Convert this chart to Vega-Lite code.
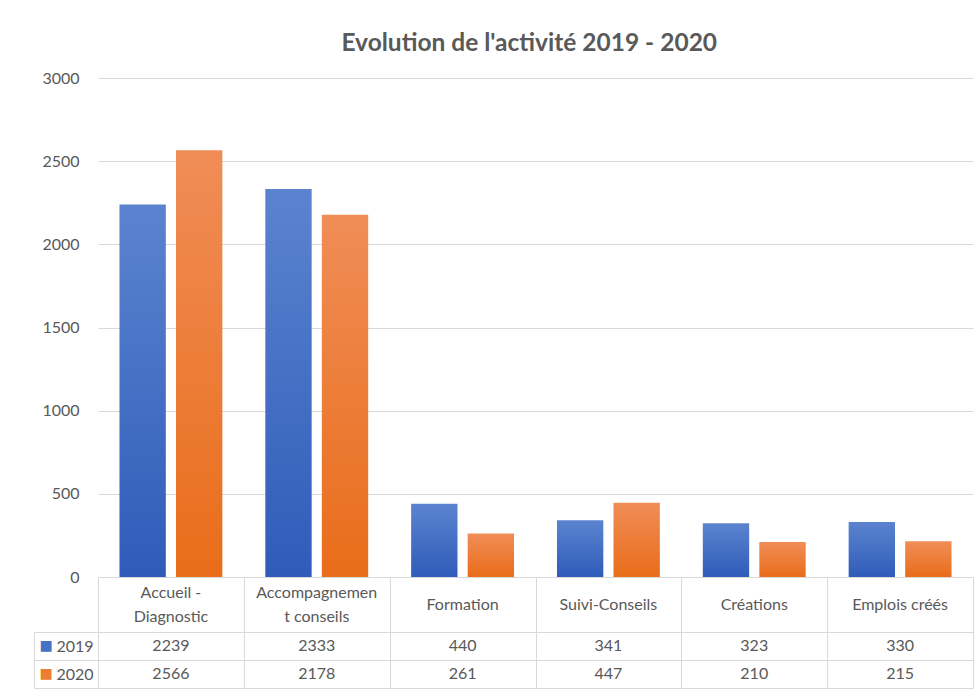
{
  "$schema": "https://vega.github.io/schema/vega-lite/v6.json",
  "background": "white",
  "padding": {"left": 33, "top": 30, "right": 5, "bottom": 0},
  "bounds": "flush",
  "config": {
    "view": {"stroke": null},
    "font": "Lato",
    "axis": {"labelFont": "Lato", "labelFontSize": 16, "labelColor": "#595959"}
  },
  "title": {
    "text": "Evolution de l'activité 2019 - 2020",
    "font": "Lato",
    "fontSize": 24.5,
    "fontWeight": "bold",
    "color": "#595959",
    "anchor": "middle",
    "offset": 14,
    "dx": 26
  },
  "datasets": {
    "d": [
      {"cat": "Accueil -\nDiagnostic", "year": "2019", "value": 2239},
      {"cat": "Accompagnemen\nt conseils", "year": "2019", "value": 2333},
      {"cat": "Formation", "year": "2019", "value": 440},
      {"cat": "Suivi-Conseils", "year": "2019", "value": 341},
      {"cat": "Créations", "year": "2019", "value": 323},
      {"cat": "Emplois créés", "year": "2019", "value": 330},
      {"cat": "Accueil -\nDiagnostic", "year": "2020", "value": 2566},
      {"cat": "Accompagnemen\nt conseils", "year": "2020", "value": 2178},
      {"cat": "Formation", "year": "2020", "value": 261},
      {"cat": "Suivi-Conseils", "year": "2020", "value": 447},
      {"cat": "Créations", "year": "2020", "value": 210},
      {"cat": "Emplois créés", "year": "2020", "value": 215}
    ]
  },
  "spacing": 0,
  "vconcat": [
    {
      "width": 875,
      "height": 499,
      "data": {"name": "d"},
      "encoding": {
        "x": {
          "field": "cat", "type": "nominal",
          "scale": {"type": "band", "domain": ["Accueil -\nDiagnostic", "Accompagnemen\nt conseils", "Formation", "Suivi-Conseils", "Créations", "Emplois créés"], "paddingInner": 0, "paddingOuter": 0},
          "axis": {"title": null, "labels": false, "ticks": false, "domain": true, "domainColor": "#d9d9d9", "grid": false}
        },
        "xOffset": {"field": "year", "type": "nominal", "scale": {"domain": ["2019", "2020"], "paddingInner": 0.18, "paddingOuter": 0.38}},
        "y": {
          "field": "value", "type": "quantitative",
          "scale": {"domain": [0, 3000]},
          "axis": {"title": null, "values": [0, 500, 1000, 1500, 2000, 2500, 3000], "format": "d", "domain": false, "ticks": false, "gridColor": "#d9d9d9", "labelPadding": 19}
        }
      },
      "layer": [
        {
          "transform": [{"filter": "datum.year == '2019'"}],
          "mark": {"type": "bar", "color": {"gradient": "linear", "x1": 0, "y1": 0, "x2": 0, "y2": 1, "stops": [{"offset": 0, "color": "#5b83cf"}, {"offset": 1, "color": "#2f5cb9"}]}}
        },
        {
          "transform": [{"filter": "datum.year == '2020'"}],
          "mark": {"type": "bar", "color": {"gradient": "linear", "x1": 0, "y1": 0, "x2": 0, "y2": 1, "stops": [{"offset": 0, "color": "#f08d57"}, {"offset": 1, "color": "#e96d1a"}]}}
        }
      ]
    },
    {
      "width": 875,
      "height": 55,
      "data": {"name": "d"},
      "transform": [{"filter": "datum.year == '2019'"}],
      "encoding": {
        "x": {
          "field": "cat", "type": "nominal",
          "scale": {"type": "band", "domain": ["Accueil -\nDiagnostic", "Accompagnemen\nt conseils", "Formation", "Suivi-Conseils", "Créations", "Emplois créés"], "paddingInner": 0, "paddingOuter": 0},
          "axis": {"title": null, "labels": false, "ticks": false, "domain": false, "grid": true, "gridColor": "#d9d9d9", "tickBand": "extent"}
        },
        "text": {"field": "cat", "type": "nominal"}
      },
      "layer": [
        {
          "transform": [{"filter": "indexof(datum.cat, '\\n') < 0"}],
          "mark": {"type": "text", "fontSize": 16, "color": "#595959", "baseline": "middle", "font": "Lato"}
        },
        {
          "transform": [{"filter": "indexof(datum.cat, '\\n') >= 0"}],
          "mark": {"type": "text", "fontSize": 16, "color": "#595959", "lineBreak": "\n", "lineHeight": 24, "baseline": "middle", "dy": -12, "font": "Lato"}
        }
      ]
    },
    {
      "width": 875,
      "height": 56,
      "data": {"name": "d"},
      "encoding": {
        "x": {
          "field": "cat", "type": "nominal",
          "scale": {"type": "band", "domain": ["Accueil -\nDiagnostic", "Accompagnemen\nt conseils", "Formation", "Suivi-Conseils", "Créations", "Emplois créés"], "paddingInner": 0, "paddingOuter": 0},
          "axis": {"title": null, "labels": false, "ticks": false, "domain": false, "grid": true, "gridColor": "#d9d9d9", "tickBand": "extent"}
        }
      },
      "layer": [
        {
          "mark": {"type": "text", "fontSize": 16, "color": "#595959", "font": "Lato"},
          "encoding": {
            "text": {"field": "value", "type": "quantitative", "format": "d"},
            "y": {
              "field": "year", "type": "nominal",
              "scale": {"type": "band", "domain": ["2019", "2020"], "paddingInner": 0, "paddingOuter": 0},
              "axis": {"orient": "left", "title": null, "domain": false, "ticks": true, "tickSize": 64, "tickColor": "#d9d9d9", "tickBand": "extent", "grid": true, "gridColor": "#d9d9d9", "labelPadding": -59}
            }
          }
        },
        {
          "mark": {"type": "text", "opacity": 0},
          "encoding": {
            "text": {"value": ""},
            "y": {
              "field": "year", "type": "nominal",
              "scale": {"type": "band", "domain": ["2019", "2020"], "paddingInner": 0, "paddingOuter": 0},
              "axis": {"orient": "left", "title": null, "offset": 64, "domain": true, "domainColor": "#d9d9d9", "ticks": false, "grid": false, "labelExpr": "'■'", "labelFont": "DejaVu Sans", "labelFontSize": 14, "labelAlign": "left", "labelPadding": -5, "labelColor": {"condition": {"test": "datum.value == '2019'", "value": "#4472c4"}, "value": "#ed7d31"}}
            }
          }
        }
      ],
      "resolve": {"axis": {"y": "independent"}}
    }
  ]
}
